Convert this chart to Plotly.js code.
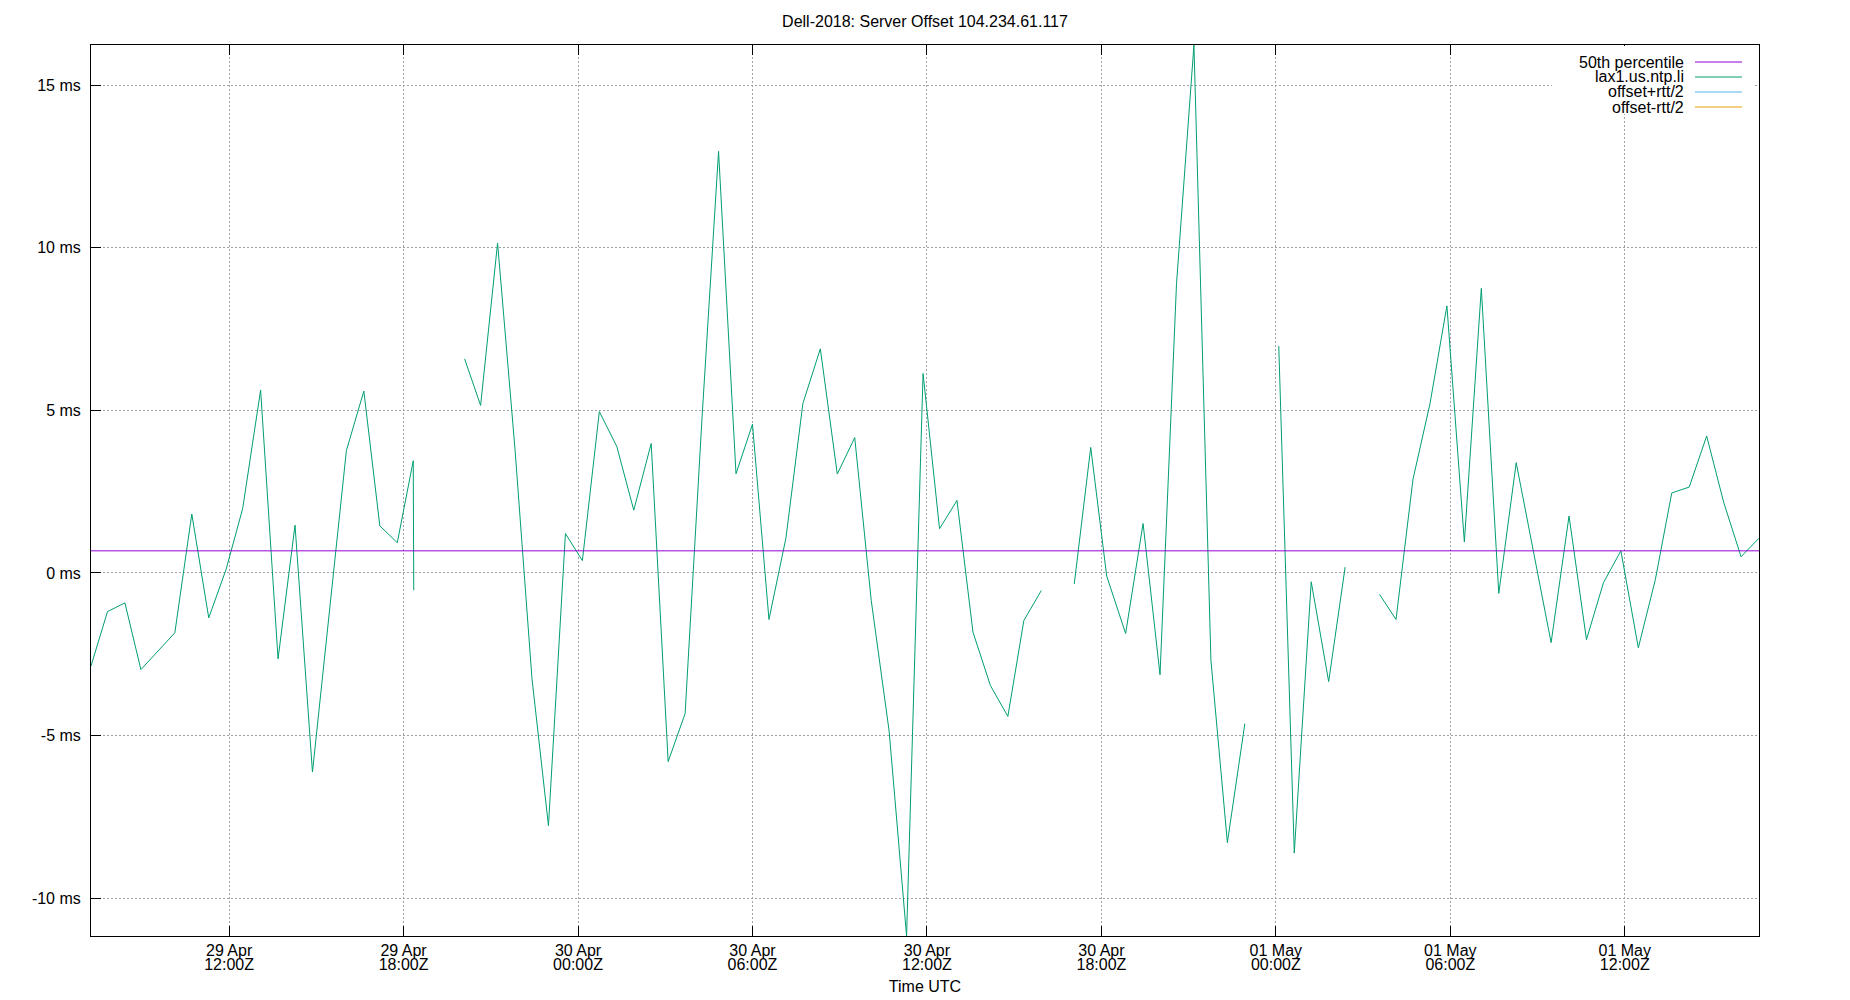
<!DOCTYPE html>
<html>
<head>
<meta charset="utf-8">
<script src="https://cdn.plot.ly/plotly-3.0.1.min.js"></script>
<style>
  body { margin: 0; background: #fff; }
  #graph { width: 1850px; height: 1000px; }
</style>
</head>
<body>
<div id="graph"></div>
<script>
// offset samples for lax1.us.ntp.li (ms); null = no sample (gap in the line)
const offsetTimes = [
  "2023-04-29 07:15", "2023-04-29 07:49", "2023-04-29 08:25", "2023-04-29 08:58",
  "2023-04-29 10:08", "2023-04-29 10:43", "2023-04-29 11:18", "2023-04-29 11:54",
  "2023-04-29 12:28", "2023-04-29 13:05", "2023-04-29 13:41", "2023-04-29 14:16",
  "2023-04-29 14:52", "2023-04-29 16:02", "2023-04-29 16:38", "2023-04-29 17:11",
  "2023-04-29 17:47", "2023-04-29 18:20", "2023-04-29 18:21", "2023-04-29 19:10",
  "2023-04-29 20:06", "2023-04-29 20:39", "2023-04-29 21:14", "2023-04-29 21:50",
  "2023-04-29 22:25", "2023-04-29 22:59", "2023-04-29 23:34", "2023-04-30 00:09",
  "2023-04-30 00:44", "2023-04-30 01:20", "2023-04-30 01:55", "2023-04-30 02:31",
  "2023-04-30 03:06", "2023-04-30 03:41", "2023-04-30 04:16", "2023-04-30 04:50",
  "2023-04-30 05:26", "2023-04-30 06:00", "2023-04-30 06:34", "2023-04-30 07:09",
  "2023-04-30 07:44", "2023-04-30 08:20", "2023-04-30 08:55", "2023-04-30 09:31",
  "2023-04-30 10:05", "2023-04-30 10:42", "2023-04-30 11:18", "2023-04-30 11:52",
  "2023-04-30 12:26", "2023-04-30 13:02", "2023-04-30 13:35", "2023-04-30 14:11",
  "2023-04-30 14:47", "2023-04-30 15:20", "2023-04-30 15:56", "2023-04-30 16:30",
  "2023-04-30 17:04", "2023-04-30 17:38", "2023-04-30 18:11", "2023-04-30 18:50",
  "2023-04-30 19:26", "2023-04-30 20:01", "2023-04-30 20:35", "2023-04-30 21:11",
  "2023-04-30 21:46", "2023-04-30 22:20", "2023-04-30 22:56", "2023-04-30 23:30",
  "2023-05-01 00:06", "2023-05-01 00:38", "2023-05-01 01:13", "2023-05-01 01:49",
  "2023-05-01 02:23", "2023-05-01 03:00", "2023-05-01 03:34", "2023-05-01 04:08",
  "2023-05-01 04:43", "2023-05-01 05:18", "2023-05-01 05:53", "2023-05-01 06:29",
  "2023-05-01 07:04", "2023-05-01 07:40", "2023-05-01 08:16", "2023-05-01 09:28",
  "2023-05-01 10:05", "2023-05-01 10:41", "2023-05-01 11:16", "2023-05-01 11:52",
  "2023-05-01 12:28", "2023-05-01 13:03", "2023-05-01 13:37", "2023-05-01 14:13",
  "2023-05-01 14:49", "2023-05-01 15:24", "2023-05-01 16:00", "2023-05-01 16:37"
];
const offsetMs = [
  -2.86, -1.19, -0.92, -2.97,
  -1.84, 1.81, -1.38, 0.12,
  1.98, 5.62, -2.64, 1.47,
  -6.12, 3.76, 5.59, 1.45,
  0.93, 3.45, -0.53, null,
  6.58, 5.15, 10.14, 3.8,
  -3.25, -7.77, 1.21, 0.38,
  4.96, 3.89, 1.93, 3.98,
  -5.80, -4.32, 4.8, 12.96,
  3.05, 4.57, -1.43, 1.07,
  5.21, 6.89, 3.04, 4.16,
  -0.84, -4.86, -11.16, 6.13,
  1.36, 2.23, -1.82, -3.46,
  -4.41, -1.46, -0.54, null,
  -0.34, 3.86, -0.1, -1.86,
  1.52, -3.13, 8.89, 16.23,
  -2.68, -8.29, -4.63, null,
  6.98, -8.61, -0.27, -3.34,
  0.18, null, -0.66, -1.43,
  2.88, 5.2, 8.21, 0.95,
  8.75, -0.63, 3.39, -2.14,
  1.75, -2.05, -0.30, 0.68,
  -2.30, -0.21, 2.46, 2.64,
  4.21, 2.18, 0.5, 1.07
];
const p50Ms = 0.68;

const timeStart = "2023-04-29 07:15";
const timeEnd = "2023-05-01 16:37";
const msMin = -11.16;
const msMax = 16.23;

const xTickTimes = [
  "2023-04-29 12:00", "2023-04-29 18:00", "2023-04-30 00:00",
  "2023-04-30 06:00", "2023-04-30 12:00", "2023-04-30 18:00",
  "2023-05-01 00:00", "2023-05-01 06:00", "2023-05-01 12:00"
];
const xTickDays = [
  "29 Apr", "29 Apr", "30 Apr", "30 Apr", "30 Apr", "30 Apr",
  "01 May", "01 May", "01 May"
];
const xTickHours = [
  "12:00Z", "18:00Z", "00:00Z", "06:00Z", "12:00Z", "18:00Z",
  "00:00Z", "06:00Z", "12:00Z"
];
const yTickVals = [-10, -5, 0, 5, 10, 15];
const yTickLabels = ["-10 ms", "-5 ms", "0 ms", "5 ms", "10 ms", "15 ms"];

const seriesNames = ["50th percentile", "lax1.us.ntp.li", "offset+rtt/2", "offset-rtt/2"];
const seriesColors = ["#9400d3", "#009e73", "#56b4e9", "#e69f00"];

// plot area in pixels, used to place the gnuplot style key
const W = 1850, H = 1000;
const plotL = 91, plotR = 1759, plotT = 45, plotB = 936;
const px = (x) => (x - plotL) / (plotR - plotL);
const py = (y) => (plotB - y) / (plotB - plotT);

function render() {
  const traces = [
    {
      type: "scatter", mode: "lines", name: seriesNames[0],
      x: [timeStart, timeEnd], y: [p50Ms, p50Ms], xaxis: "x2",
      line: { color: seriesColors[0], width: 1 },
      showlegend: false, hoverinfo: "skip",
    },
    {
      type: "scatter", mode: "lines", name: seriesNames[1],
      x: offsetTimes, y: offsetMs, connectgaps: false,
      line: { color: seriesColors[1], width: 1 },
      showlegend: false,
    },
    {
      type: "scatter", mode: "lines", name: seriesNames[2],
      x: [], y: [], line: { color: seriesColors[2], width: 1 },
      showlegend: false,
    },
    {
      type: "scatter", mode: "lines", name: seriesNames[3],
      x: [], y: [], line: { color: seriesColors[3], width: 1 },
      showlegend: false,
    },
  ];

  // key: white box, right aligned names, line samples on the right
  const keyRows = [62, 77, 92, 107];
  const shapes = [
    {
      type: "rect", xref: "paper", yref: "paper", layer: "above",
      x0: px(1552), x1: px(1753), y0: py(114), y1: py(46),
      fillcolor: "#ffffff", line: { width: 0 },
    },
  ];
  const annotations = [];
  seriesNames.forEach((name, i) => {
    shapes.push({
      type: "line", xref: "paper", yref: "paper", layer: "above",
      x0: px(1695), x1: px(1742), y0: py(keyRows[i]), y1: py(keyRows[i]),
      line: { color: seriesColors[i], width: 1 },
    });
    annotations.push({
      xref: "paper", yref: "paper", x: px(1686), y: py(keyRows[i]),
      xanchor: "right", yanchor: "middle", showarrow: false,
      text: name, font: { size: 16, color: "#000" },
    });
  });

  const gridStyle = { showgrid: true, gridcolor: "#a0a0a0", gridwidth: 1, griddash: "2px,2px" };

  const layout = {
    width: W, height: H,
    paper_bgcolor: "#ffffff", plot_bgcolor: "#ffffff",
    font: { family: "'Liberation Sans', Arial, sans-serif", size: 16, color: "#000" },
    title: {
      text: "Dell-2018: Server Offset 104.234.61.117",
      x: 0.5, xref: "paper", y: 1 - 21 / H, yref: "container", yanchor: "middle",
      font: { size: 16 },
    },
    margin: { l: plotL, r: W - plotR, t: plotT, b: H - plotB, pad: 0 },
    showlegend: false,
    // day line of the time labels, plus grid, ticks and frame
    xaxis: Object.assign({
      type: "date", range: [timeStart, timeEnd],
      tickmode: "array", tickvals: xTickTimes, ticktext: xTickDays,
      ticks: "inside", ticklen: 10, tickcolor: "#000", tickwidth: 1,
      showline: true, linecolor: "#000", linewidth: 1, mirror: "ticks",
      zeroline: false, automargin: false,
    }, gridStyle),
    // hour line of the time labels, set a little lower
    xaxis2: {
      type: "date", matches: "x", overlaying: "x", anchor: "y", side: "bottom",
      tickmode: "array", tickvals: xTickTimes, ticktext: xTickHours,
      ticks: "", showgrid: false, showline: false, zeroline: false,
      automargin: false, ticklabelstandoff: 17,
      title: { text: "Time UTC", font: { size: 16 }, standoff: 8 },
    },
    yaxis: Object.assign({
      range: [msMin, msMax],
      tickmode: "array", tickvals: yTickVals, ticktext: yTickLabels,
      ticks: "inside", ticklen: 10, tickcolor: "#000", tickwidth: 1,
      showline: true, linecolor: "#000", linewidth: 1, mirror: true,
      zeroline: false, automargin: false, ticklabelstandoff: 6,
    }, gridStyle),
    shapes: shapes,
    annotations: annotations,
  };

  Plotly.newPlot("graph", traces, layout, { displayModeBar: false, staticPlot: true });
}

render();
</script>
</body>
</html>
